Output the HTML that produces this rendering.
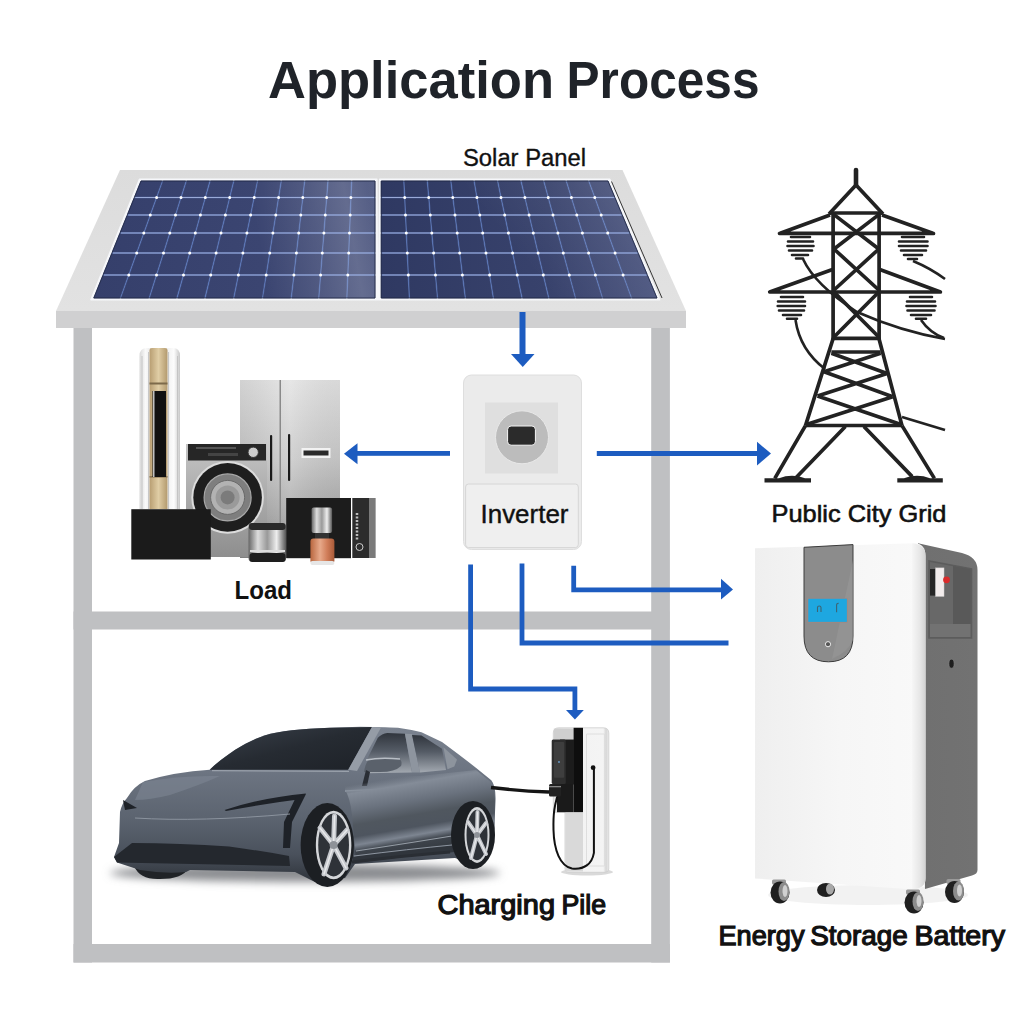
<!DOCTYPE html>
<html><head><meta charset="utf-8"><title>Application Process</title>
<style>
html,body{margin:0;padding:0;background:#fff;}
body{width:1024px;height:1024px;overflow:hidden;position:relative;font-family:"Liberation Sans",sans-serif;}
svg{position:absolute;left:0;top:0;}
</style></head>
<body>
<svg width="1024" height="1024" viewBox="0 0 1024 1024" font-family="Liberation Sans, sans-serif">
<defs>
  <linearGradient id="cellL" gradientUnits="userSpaceOnUse" x1="94" y1="0" x2="375" y2="0">
    <stop offset="0" stop-color="#353f6b"/><stop offset="0.6" stop-color="#3b4571"/><stop offset="1" stop-color="#444e79"/>
  </linearGradient>
  <linearGradient id="cellR" gradientUnits="userSpaceOnUse" x1="381" y1="0" x2="659" y2="0">
    <stop offset="0" stop-color="#2f3962"/><stop offset="0.6" stop-color="#38426c"/><stop offset="1" stop-color="#47517c"/>
  </linearGradient>
  <linearGradient id="glareL" gradientUnits="userSpaceOnUse" x1="260" y1="250" x2="375" y2="230">
    <stop offset="0" stop-color="#fff" stop-opacity="0"/><stop offset="0.5" stop-color="#fff" stop-opacity="0.1"/><stop offset="0.8" stop-color="#fff" stop-opacity="0.18"/><stop offset="1" stop-color="#fff" stop-opacity="0.1"/>
  </linearGradient>
  <linearGradient id="glareR" gradientUnits="userSpaceOnUse" x1="540" y1="280" x2="650" y2="190">
    <stop offset="0" stop-color="#fff" stop-opacity="0"/><stop offset="0.6" stop-color="#fff" stop-opacity="0.07"/><stop offset="1" stop-color="#fff" stop-opacity="0.14"/>
  </linearGradient>
  <linearGradient id="roofTop" x1="0" y1="0" x2="0" y2="1">
    <stop offset="0" stop-color="#dcdcdc"/><stop offset="1" stop-color="#e2e2e2"/>
  </linearGradient>
</defs>

<!-- title -->
<text x="268" y="98.2" font-size="52.4" font-weight="bold" fill="#1f2329" textLength="286" lengthAdjust="spacingAndGlyphs">Application</text>
<text x="566.5" y="98.2" font-size="52.4" font-weight="bold" fill="#1f2329" textLength="193" lengthAdjust="spacingAndGlyphs">Process</text>
<text x="463" y="166.3" font-size="23.5" fill="#111" stroke="#111" stroke-width="0.35" textLength="123" lengthAdjust="spacingAndGlyphs">Solar Panel</text>

<!-- house structure -->
<polygon points="120,170 622.5,170 686,311 56,311" fill="url(#roofTop)"/>
<rect x="56" y="311" width="630" height="17" fill="#d0d0d1"/>
<rect x="73.5" y="328" width="18.5" height="634.5" fill="#bfc0c2"/>
<rect x="651.2" y="328" width="18.7" height="634.5" fill="#bfc0c2"/>
<rect x="73.5" y="611.5" width="596" height="18" fill="#bfc0c2"/>
<rect x="73.5" y="944" width="596.5" height="18.5" fill="#bfc0c2"/>

<!-- panels -->
<path d="M139.5,179.2L376.8,179.2L377.6,299.8L90.95,299.8Z" fill="#f6f7fa" stroke="#f6f7fa" stroke-width="1.5" stroke-linejoin="round"/>
<path d="M141,181L375,181L375,298L93.75,298Z" fill="#6a8ad0"/>
<path d="M141.0,181.0L161.8,181.0L156.1,196.8L134.6,196.8ZM163.2,181.0L185.5,181.0L180.5,196.8L157.6,196.8ZM187.0,181.0L209.2,181.0L204.8,196.8L182.0,196.8ZM210.8,181.0L233.0,181.0L229.1,196.8L206.3,196.8ZM234.5,181.0L256.8,181.0L253.6,196.8L230.6,196.8ZM258.2,181.0L280.5,181.0L278.0,196.8L255.1,196.8ZM282.0,181.0L303.9,181.0L302.1,196.8L279.5,196.8ZM305.4,181.0L327.2,181.0L326.0,196.8L303.6,196.8ZM328.8,181.0L350.9,181.0L350.2,196.8L327.5,196.8ZM352.4,181.0L375.0,181.0L375.0,196.8L351.7,196.8ZM134.0,198.2L155.6,198.2L149.8,214.2L127.6,214.2ZM157.1,198.2L180.0,198.2L175.0,214.2L151.3,214.2ZM181.5,198.2L204.4,198.2L199.9,214.2L176.5,214.2ZM205.9,198.2L228.8,198.2L224.8,214.2L201.4,214.2ZM230.3,198.2L253.2,198.2L250.0,214.2L226.3,214.2ZM254.7,198.2L277.7,198.2L275.2,214.2L251.5,214.2ZM279.2,198.2L302.0,198.2L300.1,214.2L276.7,214.2ZM303.5,198.2L325.9,198.2L324.6,214.2L301.6,214.2ZM327.4,198.2L350.2,198.2L349.5,214.2L326.1,214.2ZM351.7,198.2L375.0,198.2L375.0,214.2L351.0,214.2ZM127.0,215.8L149.3,215.8L143.4,232.2L120.3,232.2ZM150.8,215.8L174.5,215.8L169.3,232.2L144.9,232.2ZM176.0,215.8L199.4,215.8L194.8,232.2L170.8,232.2ZM200.9,215.8L224.5,215.8L220.4,232.2L196.3,232.2ZM226.0,215.8L249.7,215.8L246.3,232.2L221.9,232.2ZM251.2,215.8L274.9,215.8L272.3,232.2L247.8,232.2ZM276.4,215.8L300.0,215.8L298.1,232.2L273.8,232.2ZM301.5,215.8L324.5,215.8L323.2,232.2L299.6,232.2ZM326.0,215.8L349.5,215.8L348.8,232.2L324.7,232.2ZM351.0,215.8L375.0,215.8L375.0,232.2L350.3,232.2ZM119.7,233.8L142.8,233.8L136.2,252.2L112.2,252.2ZM144.3,233.8L168.8,233.8L163.0,252.2L137.7,252.2ZM170.3,233.8L194.4,233.8L189.2,252.2L164.5,252.2ZM195.9,233.8L220.0,233.8L215.5,252.2L190.7,252.2ZM221.5,233.8L246.0,233.8L242.3,252.2L217.0,252.2ZM247.5,233.8L272.0,233.8L269.1,252.2L243.8,252.2ZM273.5,233.8L297.9,233.8L295.8,252.2L270.6,252.2ZM299.4,233.8L323.1,233.8L321.6,252.2L297.3,252.2ZM324.6,233.8L348.7,233.8L348.0,252.2L323.1,252.2ZM350.2,233.8L375.0,233.8L375.0,252.2L349.5,252.2ZM111.6,253.8L135.6,253.8L128.3,274.2L103.3,274.2ZM137.1,253.8L162.5,253.8L156.0,274.2L129.8,274.2ZM164.0,253.8L188.7,253.8L182.9,274.2L157.5,274.2ZM190.2,253.8L215.1,253.8L210.1,274.2L184.4,274.2ZM216.6,253.8L242.0,253.8L237.8,274.2L211.6,274.2ZM243.5,253.8L268.8,253.8L265.6,274.2L239.3,274.2ZM270.3,253.8L295.6,253.8L293.2,274.2L267.1,274.2ZM297.1,253.8L321.5,253.8L319.9,274.2L294.7,274.2ZM323.0,253.8L347.9,253.8L347.1,274.2L321.4,274.2ZM349.4,253.8L375.0,253.8L375.0,274.2L348.6,274.2ZM102.7,275.8L127.7,275.8L119.8,298.0L93.8,298.0ZM129.2,275.8L155.5,275.8L148.5,298.0L121.2,298.0ZM157.0,275.8L182.5,275.8L176.2,298.0L150.0,298.0ZM184.0,275.8L209.7,275.8L204.2,298.0L177.8,298.0ZM211.2,275.8L237.5,275.8L233.0,298.0L205.8,298.0ZM239.0,275.8L265.3,275.8L261.8,298.0L234.5,298.0ZM266.8,275.8L293.1,275.8L290.5,298.0L263.2,298.0ZM294.6,275.8L319.8,275.8L318.0,298.0L292.0,298.0ZM321.3,275.8L347.0,275.8L346.1,298.0L319.5,298.0ZM348.5,275.8L375.0,275.8L375.0,298.0L347.6,298.0Z" fill="url(#cellL)" stroke="url(#cellL)" stroke-width="0.6" stroke-linejoin="round"/>
<path d="M141,181L375,181L375,298L93.75,298Z" fill="url(#glareL)"/>
<path d="M135.3,197.5L374.0,197.5M128.3,215.0L374.0,215.0M121.0,233.0L374.0,233.0M112.9,253.0L374.0,253.0M104.0,275.0L374.0,275.0" stroke="#9aaad8" stroke-width="1.1" fill="none"/>
<path d="M155.1,197.5a1.5,1.5 0 1,0 3,0a1.5,1.5 0 1,0 -3,0M179.5,197.5a1.5,1.5 0 1,0 3,0a1.5,1.5 0 1,0 -3,0M203.8,197.5a1.5,1.5 0 1,0 3,0a1.5,1.5 0 1,0 -3,0M228.2,197.5a1.5,1.5 0 1,0 3,0a1.5,1.5 0 1,0 -3,0M252.7,197.5a1.5,1.5 0 1,0 3,0a1.5,1.5 0 1,0 -3,0M277.1,197.5a1.5,1.5 0 1,0 3,0a1.5,1.5 0 1,0 -3,0M301.3,197.5a1.5,1.5 0 1,0 3,0a1.5,1.5 0 1,0 -3,0M325.2,197.5a1.5,1.5 0 1,0 3,0a1.5,1.5 0 1,0 -3,0M349.4,197.5a1.5,1.5 0 1,0 3,0a1.5,1.5 0 1,0 -3,0M148.8,215.0a1.5,1.5 0 1,0 3,0a1.5,1.5 0 1,0 -3,0M174.0,215.0a1.5,1.5 0 1,0 3,0a1.5,1.5 0 1,0 -3,0M198.9,215.0a1.5,1.5 0 1,0 3,0a1.5,1.5 0 1,0 -3,0M223.9,215.0a1.5,1.5 0 1,0 3,0a1.5,1.5 0 1,0 -3,0M249.1,215.0a1.5,1.5 0 1,0 3,0a1.5,1.5 0 1,0 -3,0M274.3,215.0a1.5,1.5 0 1,0 3,0a1.5,1.5 0 1,0 -3,0M299.3,215.0a1.5,1.5 0 1,0 3,0a1.5,1.5 0 1,0 -3,0M323.8,215.0a1.5,1.5 0 1,0 3,0a1.5,1.5 0 1,0 -3,0M348.7,215.0a1.5,1.5 0 1,0 3,0a1.5,1.5 0 1,0 -3,0M142.3,233.0a1.5,1.5 0 1,0 3,0a1.5,1.5 0 1,0 -3,0M168.3,233.0a1.5,1.5 0 1,0 3,0a1.5,1.5 0 1,0 -3,0M193.8,233.0a1.5,1.5 0 1,0 3,0a1.5,1.5 0 1,0 -3,0M219.5,233.0a1.5,1.5 0 1,0 3,0a1.5,1.5 0 1,0 -3,0M245.4,233.0a1.5,1.5 0 1,0 3,0a1.5,1.5 0 1,0 -3,0M271.4,233.0a1.5,1.5 0 1,0 3,0a1.5,1.5 0 1,0 -3,0M297.2,233.0a1.5,1.5 0 1,0 3,0a1.5,1.5 0 1,0 -3,0M322.4,233.0a1.5,1.5 0 1,0 3,0a1.5,1.5 0 1,0 -3,0M348.0,233.0a1.5,1.5 0 1,0 3,0a1.5,1.5 0 1,0 -3,0M135.2,253.0a1.5,1.5 0 1,0 3,0a1.5,1.5 0 1,0 -3,0M162.0,253.0a1.5,1.5 0 1,0 3,0a1.5,1.5 0 1,0 -3,0M188.2,253.0a1.5,1.5 0 1,0 3,0a1.5,1.5 0 1,0 -3,0M214.6,253.0a1.5,1.5 0 1,0 3,0a1.5,1.5 0 1,0 -3,0M241.4,253.0a1.5,1.5 0 1,0 3,0a1.5,1.5 0 1,0 -3,0M268.2,253.0a1.5,1.5 0 1,0 3,0a1.5,1.5 0 1,0 -3,0M294.9,253.0a1.5,1.5 0 1,0 3,0a1.5,1.5 0 1,0 -3,0M320.8,253.0a1.5,1.5 0 1,0 3,0a1.5,1.5 0 1,0 -3,0M347.2,253.0a1.5,1.5 0 1,0 3,0a1.5,1.5 0 1,0 -3,0M127.3,275.0a1.5,1.5 0 1,0 3,0a1.5,1.5 0 1,0 -3,0M155.0,275.0a1.5,1.5 0 1,0 3,0a1.5,1.5 0 1,0 -3,0M182.0,275.0a1.5,1.5 0 1,0 3,0a1.5,1.5 0 1,0 -3,0M209.2,275.0a1.5,1.5 0 1,0 3,0a1.5,1.5 0 1,0 -3,0M236.9,275.0a1.5,1.5 0 1,0 3,0a1.5,1.5 0 1,0 -3,0M264.7,275.0a1.5,1.5 0 1,0 3,0a1.5,1.5 0 1,0 -3,0M292.4,275.0a1.5,1.5 0 1,0 3,0a1.5,1.5 0 1,0 -3,0M319.1,275.0a1.5,1.5 0 1,0 3,0a1.5,1.5 0 1,0 -3,0M346.3,275.0a1.5,1.5 0 1,0 3,0a1.5,1.5 0 1,0 -3,0" fill="#ffffff"/>
<path d="M141,181L375,181L375,298L93.75,298Z" fill="none" stroke="#1d2440" stroke-width="0.8" stroke-linejoin="round"/>
<path d="M379.75,179.2L609.8,179.2L659.6,299.8L378.45,299.8Z" fill="#f6f7fa" stroke="#f6f7fa" stroke-width="1.5" stroke-linejoin="round"/>
<path d="M381.25,181L608,181L657,298L381.25,298Z" fill="#6a8ad0"/>
<path d="M381.2,181.0L403.1,181.0L403.9,196.8L381.2,196.8ZM404.6,181.0L426.6,181.0L427.9,196.8L405.4,196.8ZM428.1,181.0L450.1,181.0L452.0,196.8L429.4,196.8ZM451.6,181.0L473.4,181.0L476.0,196.8L453.5,196.8ZM474.9,181.0L496.9,181.0L500.1,196.8L477.5,196.8ZM498.4,181.0L520.2,181.0L524.0,196.8L501.6,196.8ZM521.8,181.0L543.0,181.0L547.3,196.8L525.5,196.8ZM544.5,181.0L565.5,181.0L570.4,196.8L548.8,196.8ZM567.0,181.0L588.0,181.0L593.8,196.8L571.9,196.8ZM589.5,181.0L608.0,181.0L614.6,196.8L595.3,196.8ZM381.2,198.2L404.0,198.2L404.7,214.2L381.2,214.2ZM405.5,198.2L428.1,198.2L429.4,214.2L406.2,214.2ZM429.6,198.2L452.2,198.2L454.2,214.2L430.9,214.2ZM453.7,198.2L476.3,198.2L478.9,214.2L455.7,214.2ZM477.8,198.2L500.4,198.2L503.8,214.2L480.4,214.2ZM501.9,198.2L524.3,198.2L528.1,214.2L505.3,214.2ZM525.8,198.2L547.7,198.2L552.0,214.2L529.6,214.2ZM549.2,198.2L570.8,198.2L575.8,214.2L553.5,214.2ZM572.3,198.2L594.3,198.2L600.1,214.2L577.3,214.2ZM595.8,198.2L615.2,198.2L621.9,214.2L601.6,214.2ZM381.2,215.8L404.8,215.8L405.6,232.2L381.2,232.2ZM406.3,215.8L429.6,215.8L431.0,232.2L407.1,232.2ZM431.1,215.8L454.4,215.8L456.4,232.2L432.5,232.2ZM455.9,215.8L479.2,215.8L481.9,232.2L457.9,232.2ZM480.7,215.8L504.1,215.8L507.5,232.2L483.4,232.2ZM505.6,215.8L528.5,215.8L532.4,232.2L509.0,232.2ZM530.0,215.8L552.4,215.8L556.9,232.2L533.9,232.2ZM553.9,215.8L576.3,215.8L581.4,232.2L558.4,232.2ZM577.8,215.8L600.7,215.8L606.7,232.2L582.9,232.2ZM602.2,215.8L622.6,215.8L629.5,232.2L608.2,232.2ZM381.2,233.8L405.6,233.8L406.5,252.2L381.2,252.2ZM407.1,233.8L431.1,233.8L432.8,252.2L408.0,252.2ZM432.6,233.8L456.6,233.8L458.9,252.2L434.3,252.2ZM458.1,233.8L482.1,233.8L485.1,252.2L460.4,252.2ZM483.6,233.8L507.9,233.8L511.7,252.2L486.6,252.2ZM509.4,233.8L532.8,233.8L537.1,252.2L513.2,252.2ZM534.3,233.8L557.3,233.8L562.3,252.2L538.6,252.2ZM558.8,233.8L581.8,233.8L587.6,252.2L563.8,252.2ZM583.3,233.8L607.3,233.8L614.0,252.2L589.1,252.2ZM608.8,233.8L630.1,233.8L637.8,252.2L615.5,252.2ZM381.2,253.8L406.6,253.8L407.5,274.2L381.2,274.2ZM408.1,253.8L432.9,253.8L434.7,274.2L409.0,274.2ZM434.4,253.8L459.1,253.8L461.6,274.2L436.2,274.2ZM460.6,253.8L485.4,253.8L488.8,274.2L463.1,274.2ZM486.9,253.8L512.0,253.8L516.3,274.2L490.3,274.2ZM513.5,253.8L537.5,253.8L542.4,274.2L517.8,274.2ZM539.0,253.8L562.7,253.8L568.3,274.2L543.9,274.2ZM564.2,253.8L588.0,253.8L594.4,274.2L569.8,274.2ZM589.5,253.8L614.6,253.8L622.1,274.2L595.9,274.2ZM616.1,253.8L638.5,253.8L647.1,274.2L623.6,274.2ZM381.2,275.8L407.6,275.8L408.6,298.0L381.2,298.0ZM409.1,275.8L434.8,275.8L436.8,298.0L410.1,298.0ZM436.3,275.8L461.8,275.8L464.6,298.0L438.2,298.0ZM463.3,275.8L489.0,275.8L492.6,298.0L466.1,298.0ZM490.5,275.8L516.6,275.8L521.2,298.0L494.1,298.0ZM518.1,275.8L542.7,275.8L548.0,298.0L522.8,298.0ZM544.2,275.8L568.7,275.8L574.8,298.0L549.5,298.0ZM570.2,275.8L594.9,275.8L601.8,298.0L576.2,298.0ZM596.4,275.8L622.6,275.8L630.8,298.0L603.2,298.0ZM624.1,275.8L647.7,275.8L657.0,298.0L632.2,298.0Z" fill="url(#cellR)" stroke="url(#cellR)" stroke-width="0.6" stroke-linejoin="round"/>
<path d="M381.25,181L608,181L657,298L381.25,298Z" fill="url(#glareR)"/>
<path d="M382.2,197.5L613.9,197.5M382.2,215.0L621.2,215.0M382.2,233.0L628.8,233.0M382.2,253.0L637.2,253.0M382.2,275.0L646.4,275.0" stroke="#9aaad8" stroke-width="1.1" fill="none"/>
<path d="M403.2,197.5a1.5,1.5 0 1,0 3,0a1.5,1.5 0 1,0 -3,0M427.2,197.5a1.5,1.5 0 1,0 3,0a1.5,1.5 0 1,0 -3,0M451.3,197.5a1.5,1.5 0 1,0 3,0a1.5,1.5 0 1,0 -3,0M475.4,197.5a1.5,1.5 0 1,0 3,0a1.5,1.5 0 1,0 -3,0M499.5,197.5a1.5,1.5 0 1,0 3,0a1.5,1.5 0 1,0 -3,0M523.4,197.5a1.5,1.5 0 1,0 3,0a1.5,1.5 0 1,0 -3,0M546.7,197.5a1.5,1.5 0 1,0 3,0a1.5,1.5 0 1,0 -3,0M569.9,197.5a1.5,1.5 0 1,0 3,0a1.5,1.5 0 1,0 -3,0M593.3,197.5a1.5,1.5 0 1,0 3,0a1.5,1.5 0 1,0 -3,0M404.0,215.0a1.5,1.5 0 1,0 3,0a1.5,1.5 0 1,0 -3,0M428.8,215.0a1.5,1.5 0 1,0 3,0a1.5,1.5 0 1,0 -3,0M453.5,215.0a1.5,1.5 0 1,0 3,0a1.5,1.5 0 1,0 -3,0M478.3,215.0a1.5,1.5 0 1,0 3,0a1.5,1.5 0 1,0 -3,0M503.2,215.0a1.5,1.5 0 1,0 3,0a1.5,1.5 0 1,0 -3,0M527.6,215.0a1.5,1.5 0 1,0 3,0a1.5,1.5 0 1,0 -3,0M551.5,215.0a1.5,1.5 0 1,0 3,0a1.5,1.5 0 1,0 -3,0M575.3,215.0a1.5,1.5 0 1,0 3,0a1.5,1.5 0 1,0 -3,0M599.7,215.0a1.5,1.5 0 1,0 3,0a1.5,1.5 0 1,0 -3,0M404.8,233.0a1.5,1.5 0 1,0 3,0a1.5,1.5 0 1,0 -3,0M430.3,233.0a1.5,1.5 0 1,0 3,0a1.5,1.5 0 1,0 -3,0M455.7,233.0a1.5,1.5 0 1,0 3,0a1.5,1.5 0 1,0 -3,0M481.2,233.0a1.5,1.5 0 1,0 3,0a1.5,1.5 0 1,0 -3,0M506.9,233.0a1.5,1.5 0 1,0 3,0a1.5,1.5 0 1,0 -3,0M531.8,233.0a1.5,1.5 0 1,0 3,0a1.5,1.5 0 1,0 -3,0M556.4,233.0a1.5,1.5 0 1,0 3,0a1.5,1.5 0 1,0 -3,0M580.9,233.0a1.5,1.5 0 1,0 3,0a1.5,1.5 0 1,0 -3,0M606.2,233.0a1.5,1.5 0 1,0 3,0a1.5,1.5 0 1,0 -3,0M405.8,253.0a1.5,1.5 0 1,0 3,0a1.5,1.5 0 1,0 -3,0M432.1,253.0a1.5,1.5 0 1,0 3,0a1.5,1.5 0 1,0 -3,0M458.2,253.0a1.5,1.5 0 1,0 3,0a1.5,1.5 0 1,0 -3,0M484.5,253.0a1.5,1.5 0 1,0 3,0a1.5,1.5 0 1,0 -3,0M511.1,253.0a1.5,1.5 0 1,0 3,0a1.5,1.5 0 1,0 -3,0M536.6,253.0a1.5,1.5 0 1,0 3,0a1.5,1.5 0 1,0 -3,0M561.8,253.0a1.5,1.5 0 1,0 3,0a1.5,1.5 0 1,0 -3,0M587.1,253.0a1.5,1.5 0 1,0 3,0a1.5,1.5 0 1,0 -3,0M613.6,253.0a1.5,1.5 0 1,0 3,0a1.5,1.5 0 1,0 -3,0M406.8,275.0a1.5,1.5 0 1,0 3,0a1.5,1.5 0 1,0 -3,0M434.0,275.0a1.5,1.5 0 1,0 3,0a1.5,1.5 0 1,0 -3,0M460.9,275.0a1.5,1.5 0 1,0 3,0a1.5,1.5 0 1,0 -3,0M488.1,275.0a1.5,1.5 0 1,0 3,0a1.5,1.5 0 1,0 -3,0M515.7,275.0a1.5,1.5 0 1,0 3,0a1.5,1.5 0 1,0 -3,0M541.8,275.0a1.5,1.5 0 1,0 3,0a1.5,1.5 0 1,0 -3,0M567.8,275.0a1.5,1.5 0 1,0 3,0a1.5,1.5 0 1,0 -3,0M593.9,275.0a1.5,1.5 0 1,0 3,0a1.5,1.5 0 1,0 -3,0M621.6,275.0a1.5,1.5 0 1,0 3,0a1.5,1.5 0 1,0 -3,0" fill="#ffffff"/>
<path d="M381.25,181L608,181L657,298L381.25,298Z" fill="none" stroke="#1d2440" stroke-width="0.8" stroke-linejoin="round"/>
<path d="M611.5,181.5L662,298" stroke="#222" stroke-width="0.9" fill="none"/>

<!-- arrows -->
<g fill="#1d5cc0" stroke="none">
  <rect x="519.5" y="312" width="6" height="43"/>
  <polygon points="511,354 534.5,354 522.75,367"/>
  <rect x="356" y="451" width="94" height="4.8"/>
  <polygon points="344,453.7 357.5,443.3 357.5,464.2"/>
  <rect x="596.8" y="451" width="161" height="5"/>
  <polygon points="757,441.8 757,465.5 771,453.5"/>
</g>
<g fill="none" stroke="#1d5cc0" stroke-width="4.8">
  <path d="M470.6,564.5V689H574.9V711"/>
  <path d="M522,563.6V643H728.5"/>
  <path d="M573.7,565.7V589.8H722"/>
</g>
<g fill="#1d5cc0">
  <polygon points="566,710 583.8,710 574.9,719.5"/>
  <polygon points="721,578.8 721,599.5 733,589.4"/>
</g>

<!-- inverter -->
<rect x="463.5" y="375" width="118" height="174.5" rx="8" fill="#ebebeb" stroke="#dedede" stroke-width="1"/>
<rect x="485" y="402.5" width="73" height="71" fill="#dfdfdf"/>
<circle cx="522" cy="437.3" r="26.5" fill="#bcbcbc" stroke="#e8e8e8" stroke-width="1"/>
<rect x="507.6" y="426" width="27.8" height="19.2" rx="3.5" fill="#2b2b2b" stroke="#f5f5f5" stroke-width="1"/>
<rect x="465.6" y="484" width="112.7" height="63.6" rx="3" fill="#efefef" stroke="#d6d6d6" stroke-width="1"/>
<text x="480.5" y="522.8" font-size="25.8" fill="#111" stroke="#111" stroke-width="0.4" textLength="88" lengthAdjust="spacingAndGlyphs">Inverter</text>



<!-- appliances -->
<defs>
  <linearGradient id="acG" x1="0" y1="0" x2="1" y2="0">
    <stop offset="0" stop-color="#d8d8d8"/><stop offset="0.15" stop-color="#fafafa"/><stop offset="0.3" stop-color="#e8e8e8"/><stop offset="0.7" stop-color="#f2f2f2"/><stop offset="0.85" stop-color="#fcfcfc"/><stop offset="1" stop-color="#c8c8c8"/>
  </linearGradient>
  <linearGradient id="goldG" x1="0" y1="0" x2="1" y2="0">
    <stop offset="0" stop-color="#b89e72"/><stop offset="0.5" stop-color="#e0cda5"/><stop offset="1" stop-color="#b39a6e"/>
  </linearGradient>
  <linearGradient id="fridgeG" x1="0" y1="0" x2="0" y2="1">
    <stop offset="0" stop-color="#e4e4e4"/><stop offset="0.45" stop-color="#cbcbcb"/><stop offset="0.75" stop-color="#ababab"/><stop offset="1" stop-color="#8a8a8a"/>
  </linearGradient>
  <linearGradient id="fridgeG2" x1="0" y1="0" x2="1" y2="0">
    <stop offset="0" stop-color="#000" stop-opacity="0.08"/><stop offset="0.5" stop-color="#fff" stop-opacity="0.1"/><stop offset="1" stop-color="#000" stop-opacity="0.05"/>
  </linearGradient>
  <linearGradient id="washG" x1="0" y1="0" x2="0" y2="1">
    <stop offset="0" stop-color="#c4c4c4"/><stop offset="1" stop-color="#8e8e8e"/>
  </linearGradient>
  <linearGradient id="chromeG" x1="0" y1="0" x2="1" y2="0">
    <stop offset="0" stop-color="#666"/><stop offset="0.25" stop-color="#ddd"/><stop offset="0.5" stop-color="#999"/><stop offset="0.75" stop-color="#eee"/><stop offset="1" stop-color="#555"/>
  </linearGradient>
  <linearGradient id="copperG" x1="0" y1="0" x2="1" y2="0">
    <stop offset="0" stop-color="#b9673f"/><stop offset="0.4" stop-color="#e7a98a"/><stop offset="0.7" stop-color="#d07d59"/><stop offset="1" stop-color="#a85a38"/>
  </linearGradient>
</defs>
<!-- fridge -->
<rect x="240" y="380" width="100" height="178" fill="url(#fridgeG)"/>
<rect x="240" y="380" width="100" height="178" fill="url(#fridgeG2)"/>
<rect x="279.5" y="380" width="1.5" height="178" fill="#8a8a8a"/>
<rect x="270" y="435" width="2.2" height="46" rx="1" fill="#1a1a1a"/>
<rect x="288" y="434" width="2.2" height="47" rx="1" fill="#1a1a1a"/>
<rect x="301.5" y="448" width="29" height="10" fill="#f2f2f2"/>
<rect x="303.5" y="450.5" width="25" height="5" fill="#2a2a2a"/>
<!-- AC tower -->
<path d="M139.5,356Q139.5,348 147,348H173Q180,348 180,356V509H139.5Z" fill="url(#acG)"/>
<path d="M149.5,350Q149.5,348 152,348H165Q167.5,348 167.5,350V509H149.5Z" fill="url(#goldG)"/>
<path d="M142,356V509M148.6,352V509M168.6,352V509M177.5,356V509" stroke="#c4c4c4" stroke-width="1" fill="none"/>
<rect x="149.5" y="382.5" width="18" height="2" fill="#7d6a4a"/>
<rect x="149.5" y="476" width="18" height="1.6" fill="#8a7655"/>
<rect x="152.5" y="391" width="13.5" height="86" fill="#111"/>
<rect x="153" y="391" width="1.5" height="86" fill="#eee" opacity="0.8"/>
<!-- washer -->
<rect x="186" y="444" width="81" height="113" fill="url(#washG)"/>
<rect x="188" y="444" width="78" height="16.5" fill="#262626"/>
<rect x="196" y="447" width="40" height="2" fill="#555"/>
<rect x="208" y="453" width="30" height="3" fill="#444"/>
<circle cx="253.2" cy="452.3" r="5.2" fill="#ccc" stroke="#333" stroke-width="1"/>
<circle cx="227.6" cy="497.4" r="36.3" fill="#dcdcdc"/>
<circle cx="227.6" cy="497.4" r="34.3" fill="#1e1e1e"/>
<circle cx="227.6" cy="497.4" r="23.5" fill="#7e7e7e" stroke="#a8a8a8" stroke-width="1.2"/>
<circle cx="227.6" cy="497.4" r="17" fill="#b2b2b2" stroke="#6a6a6a" stroke-width="1"/>
<circle cx="227.6" cy="497.4" r="12" fill="#9a9a9a"/>
<circle cx="227.6" cy="497.4" r="7" fill="#7b7b7b"/>
<!-- black boxes -->
<rect x="131.3" y="509.2" width="79.5" height="50.3" fill="#1b1b1b"/>
<rect x="286.2" y="498" width="64.8" height="60.2" fill="#1c1c1c"/>
<rect x="352.3" y="498" width="23" height="60" fill="#2c2c2c"/>
<rect x="369" y="498" width="6.3" height="60" fill="#7a7a7a"/>
<circle cx="359.5" cy="547" r="3.5" fill="none" stroke="#ccc" stroke-width="1"/>
<path d="M357,513V540" stroke="#bbb" stroke-width="2.5" stroke-dasharray="2,1.5"/>
<!-- pot -->
<rect x="248.5" y="523" width="37.5" height="39" rx="4" fill="url(#chromeG)"/>
<rect x="249" y="523" width="36.5" height="7" rx="3" fill="#2a2a2a"/>
<rect x="249.5" y="553" width="36" height="9" rx="3" fill="#1e1e1e"/>
<rect x="250" y="550" width="35" height="2" fill="#ddd"/>
<!-- perfume -->
<rect x="311.6" y="507.5" width="20.5" height="25.5" rx="2" fill="url(#chromeG)"/>
<rect x="315" y="533" width="14" height="6" fill="#333"/>
<rect x="310.4" y="538.5" width="24" height="25" rx="3" fill="url(#copperG)"/>
<rect x="310.4" y="561" width="24" height="4" rx="2" fill="#e6e6e6"/>

<!-- car -->
<defs>
  <linearGradient id="carBody" x1="0" y1="0" x2="0" y2="1">
    <stop offset="0" stop-color="#7b8390"/><stop offset="0.3" stop-color="#6c7481"/><stop offset="0.6" stop-color="#5b636f"/><stop offset="0.82" stop-color="#4a515c"/><stop offset="1" stop-color="#2e333a"/>
  </linearGradient>
  <linearGradient id="winG" x1="0" y1="0" x2="1" y2="1">
    <stop offset="0" stop-color="#3a414b"/><stop offset="0.5" stop-color="#262b32"/><stop offset="1" stop-color="#1e2228"/>
  </linearGradient>
  <linearGradient id="sideWinG" x1="0" y1="0" x2="0" y2="1">
    <stop offset="0" stop-color="#30353d"/><stop offset="0.45" stop-color="#555c66"/><stop offset="1" stop-color="#a3a9b1"/>
  </linearGradient>
  <linearGradient id="sideG" gradientUnits="userSpaceOnUse" x1="405" y1="776" x2="419" y2="858">
    <stop offset="0" stop-color="#7f8793" stop-opacity="0"/><stop offset="0.1" stop-color="#848c98"/><stop offset="0.3" stop-color="#6a727e"/><stop offset="0.48" stop-color="#50575f"/><stop offset="0.62" stop-color="#4e555f"/><stop offset="0.72" stop-color="#7d8591"/><stop offset="0.8" stop-color="#3e444c"/><stop offset="1" stop-color="#2f343a"/>
  </linearGradient>
  <radialGradient id="shadowG" cx="0.5" cy="0.5" r="0.5">
    <stop offset="0" stop-color="#cfd1d4"/><stop offset="1" stop-color="#fff" stop-opacity="0"/>
  </radialGradient>
  <radialGradient id="rimG" cx="0.5" cy="0.5" r="0.5">
    <stop offset="0" stop-color="#9a9ea4"/><stop offset="0.7" stop-color="#4a4e55"/><stop offset="1" stop-color="#d6d8dc"/>
  </radialGradient>
</defs>
<filter id="blur4" x="-20%" y="-200%" width="140%" height="500%"><feGaussianBlur stdDeviation="4"/></filter>
<ellipse cx="305" cy="873" rx="195" ry="9" fill="#8a8c90" filter="url(#blur4)"/>
<path d="M134,866Q140,880 160,879Q182,879 188,869Z" fill="#202327"/>
<path d="M114,857L119,843L120,812Q122,803 127,798Q134,786 145,781Q175,772 209.7,769.8C225,755 245,742 264.5,735.4C280,731 300,729 330,727.8L360,726.8Q390,727 401,728.2Q412,729.5 421.5,732.3L442,741.9L458.4,754.2L476.2,767.9L491.3,780.2Q496,786 495.5,801L494,835Q492,852 488,858L480,866L455,858L355,864L345,878L315,882L295,872L190,870L186,872Q165,874 140,870L117,862.5Z" fill="url(#carBody)"/>
<path d="M209.7,769.8C225,755 245,742 264.5,735.4C280,731 300,729 330,727.8L372,727L348.2,769.8Z" fill="url(#winG)"/>
<path d="M372,727L381,727.5L357,771L348.2,769.8Z" fill="#959ca6"/>
<path d="M212,770.6L349,771.3" stroke="#9aa1ab" stroke-width="1.2" fill="none"/>
<path d="M366.8,773.3L368.2,757L377.8,737.8Q382,733.5 387.3,733L405,733.7L412,772.6Z" fill="url(#sideWinG)"/>
<path d="M405,733.7L412,734L420,772.5L412,772.6Z" fill="#8e959f"/>
<path d="M412,735L421.5,735.5L442,748.7L446,770L420,772.6Z" fill="url(#sideWinG)"/>
<path d="M443.4,747.3L457,759.6L454.3,766.5L447.5,769.2Z" fill="#8d949d"/>
<path d="M364,772Q366,759 372,758.5H398Q403,760 401,766Q395,772 380,772Z" fill="#5a616b"/>
<path d="M366,760Q380,757 400,759" stroke="#b8bec5" stroke-width="1.5" fill="none"/>
<path d="M366,770L362,786L367,786L370,772Z" fill="#2a2e35"/>
<path d="M345,791Q420,787 493,787" stroke="#a3abb6" stroke-width="1.3" fill="none" opacity="0.8"/>
<path d="M347,776L420,776L476,770L493,784L495,800L494,845L452,852L356,862L352,815Q350,797 345,790Z" fill="url(#sideG)"/>
<path d="M356,851Q410,843 470,833" stroke="#a0a7b0" stroke-width="1.2" fill="none" opacity="0.9"/>
<path d="M352,857Q410,850 452,846L455,852Q410,856 354,863Z" fill="#30353c"/>
<path d="M354,856Q410,849 452,845" stroke="#8d95a0" stroke-width="1" fill="none"/>
<path d="M143,782Q180,775 220,776Q200,785 170,795Q150,800 135,800Z" fill="#7d8592" opacity="0.6"/>
<path d="M114,857L132,843Q180,843 229,846.5Q262,851 289,856L290,866L117,862.5Z" fill="#24282e"/>
<path d="M224.6,810Q260,798 306,793.5L302,799Q262,804 226,811Z" fill="#1e2228"/>
<path d="M123,800L137,808L125,810Z" fill="#1e2228"/>
<path d="M296,797L306,794L292,822L290,848L283,848L284,822Z" fill="#1e2228"/>
<path d="M135,818Q200,822 290,814" stroke="#8b939e" stroke-width="1" fill="none"/>
<path d="M352,862Q400,856 450,852" stroke="#2a2e34" stroke-width="3" fill="none"/>
<!-- wheels -->
<ellipse cx="327.3" cy="845" rx="26.7" ry="42" fill="#1c1f23"/>
<ellipse cx="333.6" cy="845" rx="17.8" ry="34.3" fill="#d4d6d9"/>
<ellipse cx="333.6" cy="845" rx="15.4" ry="31.5" fill="#2e3238"/>
<g stroke="#c4c7cc" stroke-width="5" stroke-linecap="round">
 <path d="M333.6,845L334.5,816M333.6,845L347,830M333.6,845L346,868M333.6,845L324,874M333.6,845L320,828"/>
</g>
<g stroke="#e8e9eb" stroke-width="1.5" stroke-linecap="round">
 <path d="M333.6,845L334.5,816M333.6,845L347,830M333.6,845L346,868M333.6,845L324,874M333.6,845L320,828"/>
</g>
<circle cx="333.6" cy="845" r="4" fill="#8e9298"/>
<ellipse cx="473" cy="835" rx="22" ry="34" fill="#1c1f23"/>
<ellipse cx="477" cy="835" rx="12.5" ry="28" fill="#d4d6d9"/>
<ellipse cx="477" cy="835" rx="10.5" ry="25.3" fill="#2e3238"/>
<g stroke="#c4c7cc" stroke-width="4" stroke-linecap="round">
 <path d="M477,835L477.5,812M477,835L486,823M477,835L486,854M477,835L471,858M477,835L468,822"/>
</g>
<g stroke="#e8e9eb" stroke-width="1.2" stroke-linecap="round">
 <path d="M477,835L477.5,812M477,835L486,823M477,835L486,854M477,835L471,858M477,835L468,822"/>
</g>
<circle cx="477" cy="835" r="3" fill="#8e9298"/>

<!-- charging pile -->
<defs>
  <linearGradient id="pileG" x1="0" y1="0" x2="1" y2="0">
    <stop offset="0" stop-color="#e6e6e6"/><stop offset="0.5" stop-color="#f3f3f3"/><stop offset="0.9" stop-color="#f4f4f4"/><stop offset="0.95" stop-color="#d6d6d6"/><stop offset="1" stop-color="#ececec"/>
  </linearGradient>
</defs>
<ellipse cx="587" cy="872" rx="26" ry="3.5" fill="#d0d0d0" opacity="0.8"/>
<path d="M553.3,733Q553.3,727.8 559,727.8H603Q608.8,727.8 608.8,733V869Q608.8,872.3 605,872.3H568Q565,872.3 565,869V812.2H553.3Z" fill="url(#pileG)" stroke="#cdcdcd" stroke-width="0.8"/>
<rect x="565.5" y="813" width="17.5" height="58.5" fill="#d9d9d9"/>
<path d="M586.5,734H604.5V866H586.5Z" fill="none" stroke="#dedede" stroke-width="1"/>
<rect x="553.8" y="728.6" width="20" height="11" fill="#cfcfcf"/>
<rect x="573.6" y="727.8" width="9.4" height="84.4" fill="#0e0e0e"/>
<rect x="560" y="739.5" width="14" height="45" fill="#1c1c1c"/>
<rect x="551.7" y="739.5" width="14.1" height="44.5" rx="1.5" fill="#2e2e2e"/>
<rect x="554" y="742" width="10.2" height="35.8" rx="1" fill="#3e3e3e"/>
<circle cx="559" cy="762" r="0.9" fill="#6aa0d0"/>
<rect x="557" y="784" width="16.6" height="28.2" fill="#1a1a1a"/>
<rect x="549" y="784" width="12" height="12.5" rx="1.5" fill="#222"/>
<rect x="549" y="786" width="12" height="1.3" fill="#888"/>
<path d="M491,787.5Q520,791 549,792" stroke="#151515" stroke-width="3.4" fill="none"/>
<path d="M557.2,796.6C555,805 553,812 553.5,830C554,850 560,866 572,868.5C584,870 592,864 593.9,852.8L593.9,768" stroke="#111" stroke-width="2" fill="none"/>
<circle cx="593.1" cy="767.7" r="2.4" fill="#111"/>

<!-- tower -->
<g stroke="#222" stroke-width="3.7" fill="none" stroke-linecap="butt" stroke-linejoin="round">
  <path d="M856,170V185" stroke-width="4.6" stroke-linecap="round"/>
  <path d="M829,214L856,185L883,214"/>
  <path d="M829,213H883"/>
  <path d="M830,215L779.5,233.4H933.5L882,215"/>
  <path d="M833.1,213V339M879.1,213V339"/>
  <path d="M834,214.6L878.8,249M878.8,214.6L834,249"/>
  <path d="M834,249L878.8,290M878.8,249L834,290"/>
  <path d="M832.5,269.5L769.7,292H940.4L879.8,269.5"/>
  <path d="M834,292L878.8,337M878.8,292L834,337"/>
  <path d="M833,338.4H879"/>
  <path d="M833.3,338L805.5,425.6M878.8,338L902,425.6"/>
  <path d="M831.4,352H880.6"/>
  <path d="M831.4,353.2L887.1,373.6M880.6,353.2L824,371.8M824,371.8L892.7,396.8M887.1,373.6L817.5,395.9M817.5,395.9L901,424.6M892.7,396.8L806.4,424.6"/>
  <path d="M805.5,425.5H902"/>
  <path d="M805.5,425.6L774.8,478.4M845.4,426.5L796.2,477.5M863.9,426.5L912.2,476.6M902,425.6L934.4,478.4"/>
  <g stroke-width="2.6">
    <path d="M803,259Q815,285 857,312Q900,331 945,339"/>
    <path d="M795.5,320Q800,350 825,369"/>
    <path d="M913,261Q930,268 945,279"/>
    <path d="M921,320Q930,333 944,338"/>
    <path d="M902,417Q925,424 945,430"/>
  </g>
</g>
<g fill="#222">
  <path d="M764.5,478.2H779Q792,473.5 805,478.2H811V482.6H764.5Z"/>
  <path d="M897.3,478.2H904Q917,473.5 930,478.2H942.8V482.6H897.3Z"/>
</g>
<g stroke="#222" stroke-width="2.6" stroke-linecap="round" fill="none">
  <path d="M791,237H810M788,241.5H813M787.5,246H813.5M789,250.5H812M792,255H808M796,258.5H803"/>
  <path d="M902,237H924M899,241.5H927.5M899,246H927.5M901,250.5H926M904,255H922M908,259H917"/>
  <path d="M781,297H803M778,301.5H805M777.7,306H805M779,310.5H804M783,315H801M787,318.8H797"/>
  <path d="M910,297H932M907,301.5H935M906.5,306H935.5M907.5,310.5H934.5M911,315H931M916,318.8H926"/>
</g>

<!-- battery -->
<defs>
  <linearGradient id="batFace" x1="0" y1="0" x2="1" y2="0">
    <stop offset="0" stop-color="#efefef"/><stop offset="0.5" stop-color="#f6f6f6"/><stop offset="1" stop-color="#f9f9f9"/>
  </linearGradient>
  <linearGradient id="batEdge" x1="0" y1="0" x2="1" y2="0">
    <stop offset="0" stop-color="#f6f6f6"/><stop offset="0.6" stop-color="#e6e6e6"/><stop offset="1" stop-color="#d2d2d2"/>
  </linearGradient>
  <linearGradient id="batSide" x1="0" y1="0" x2="1" y2="0">
    <stop offset="0" stop-color="#5e5e5e"/><stop offset="0.1" stop-color="#707070"/><stop offset="1" stop-color="#727272"/>
  </linearGradient>
</defs>
<ellipse cx="868" cy="895" rx="100" ry="10" fill="#ececec" opacity="0.7"/>
<path d="M918,543.3L962,553Q977.5,557 977.5,570V870Q977.5,874 972,875.5L925,889Z" fill="url(#batSide)"/>
<path d="M928.2,560L972.3,568.2V638.8H928.2Z" fill="#5c5c5c"/>
<path d="M930,562L953,566.3V624H930Z" fill="#686868"/>
<path d="M953,566.3L970.5,569.6V624H953Z" fill="#595959"/>
<path d="M930,624H970.5V637H930Z" fill="#727272"/>
<rect x="930" y="569" width="5" height="26.6" fill="#262626"/>
<rect x="935.7" y="567.9" width="8.3" height="28.5" fill="#f2ecec" stroke="#ccc" stroke-width="0.5"/>
<circle cx="946.5" cy="579.8" r="3.4" fill="#d92a2a"/>
<ellipse cx="951.5" cy="663.7" rx="2.6" ry="4.5" fill="#1e1e1e" stroke="#888" stroke-width="0.6"/>
<path d="M755,548.3L914,543.3Q925.5,543.3 925.5,556V878Q925.5,889.5 914,889.5L755,878.4Z" fill="url(#batFace)"/>
<path d="M912,543.5Q925.5,544 925.5,556V878Q925.5,889 912,889.3Z" fill="url(#batEdge)"/>
<path d="M804,547.3L853,544.6V636Q853,661.8 828.5,661.8Q804,661.8 804,636Z" fill="#8c8c8c" stroke="#3c3c3c" stroke-width="1"/>
<path d="M853,560L853,640Q848,652 832,659L853,560Z" fill="#999" opacity="0.5"/>
<rect x="807.9" y="598.2" width="39.3" height="24" fill="#1ea7e0" stroke="#c0806a" stroke-width="0.6"/>
<path d="M817.5,612V607.5Q817.5,606 819.2,606Q821,606 821,607.5V612M836.6,612.3V605Q836.6,603.2 838.6,603.4" stroke="#3d6474" stroke-width="1.1" fill="none"/>
<circle cx="828" cy="644.2" r="2.6" fill="#555" stroke="#eee" stroke-width="1"/>
<g>
  <defs><g id="wh"><rect x="-8" y="-13" width="14" height="5" rx="1.5" fill="#9a9a9a"/><ellipse cx="0" cy="0" rx="9.5" ry="11" fill="#1f1f1f"/><ellipse cx="4" cy="-1" rx="5.5" ry="9.5" fill="#8c8c8c"/><ellipse cx="5" cy="-1.5" rx="2.5" ry="6" fill="#d0d0d0"/></g></defs>
  <use href="#wh" transform="translate(780,892.5)"/>
  <use href="#wh" transform="translate(914,902.5)"/>
  <use href="#wh" transform="translate(954.5,892)"/>
  <ellipse cx="826" cy="890" rx="9" ry="7" fill="#1f1f1f"/>
  <ellipse cx="830" cy="889" rx="4" ry="5.5" fill="#a8a8a8"/>
</g>

<!-- labels -->
<text x="771.5" y="521.6" font-size="24.5" fill="#111" stroke="#111" stroke-width="0.6" textLength="175" lengthAdjust="spacingAndGlyphs">Public City Grid</text>
<text x="234.5" y="598.7" font-size="25.3" font-weight="bold" fill="#111" textLength="57.5" lengthAdjust="spacingAndGlyphs">Load</text>
<text x="437.5" y="913.6" font-size="27.2" fill="#111" stroke="#111" stroke-width="1.25" lengthAdjust="spacingAndGlyphs" textLength="117.5">Charging</text><text x="561.5" y="913.6" font-size="27.2" fill="#111" stroke="#111" stroke-width="1.25" lengthAdjust="spacingAndGlyphs" textLength="44.5">Pile</text>
<text x="718.5" y="944.6" font-size="27.8" fill="#111" stroke="#111" stroke-width="1.25" lengthAdjust="spacingAndGlyphs" textLength="86">Energy</text><text x="810.3" y="944.6" font-size="27.8" fill="#111" stroke="#111" stroke-width="1.25" lengthAdjust="spacingAndGlyphs" textLength="97.5">Storage</text><text x="914.5" y="944.6" font-size="27.8" fill="#111" stroke="#111" stroke-width="1.25" lengthAdjust="spacingAndGlyphs" textLength="90.5">Battery</text>

</svg>
</body></html>
